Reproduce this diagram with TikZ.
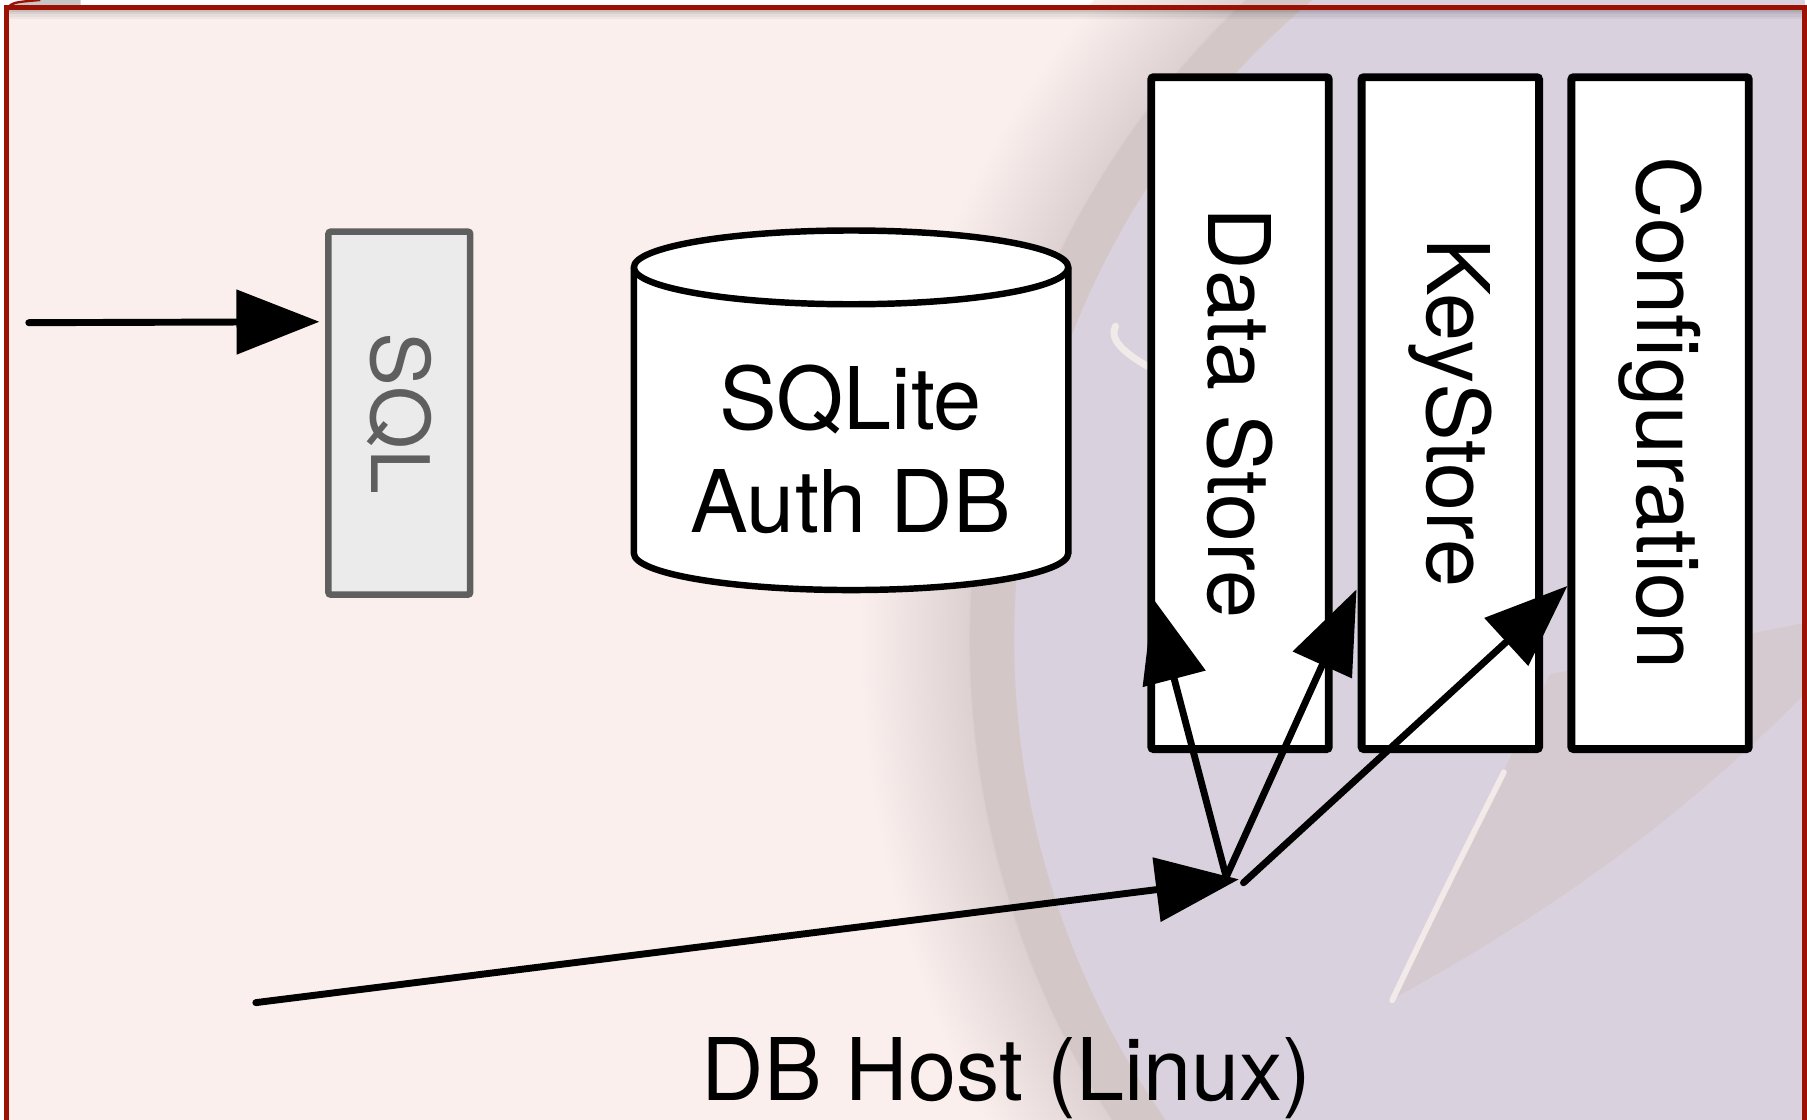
\documentclass[tikz,border=0pt]{standalone}
\usepackage{fontspec}
\setmainfont{TeX Gyre Heros}
\usetikzlibrary{arrows.meta,calc}
\definecolor{pinkbg}{HTML}{FAEFED}
\definecolor{framered}{HTML}{9B1205}
\definecolor{ringC}{HTML}{DDD2D1}
\definecolor{ringD}{HTML}{D3C8C7}
\definecolor{purp}{HTML}{D9D1DE}
\definecolor{bladecol}{HTML}{D5CACF}
\definecolor{streak}{HTML}{F2E9E9}
\definecolor{sqlfill}{HTML}{EBEBEB}
\definecolor{sqlgray}{HTML}{5F5F5F}
\pgfdeclareradialshading{logoring}{\pgfpoint{0bp}{0bp}}{%
  color(0bp)=(purp); color(21.1bp)=(purp);
  color(21.12bp)=(ringD); color(22.22bp)=(ringD);
  color(22.25bp)=(ringC); color(25bp)=(pinkbg); color(50bp)=(pinkbg)}
\tikzset{
  store/.style={draw=black, line width=3.4pt, fill=white, rounded corners=1pt,
    minimum width=77pt, minimum height=291.5pt, inner sep=0pt, font=\fontsize{37.5}{45}\selectfont},
  sqlbox/.style={draw=sqlgray, line width=2.8pt, fill=sqlfill, rounded corners=1pt, text=sqlgray,
    minimum width=61.5pt, minimum height=157.5pt, inner sep=0pt, font=\fontsize{35}{42}\selectfont},
  lbl/.style={font=\fontsize{37.5}{45}\selectfont, inner sep=0pt},
  arr/.style={line width=3pt, line cap=round, -{Triangle[length=36pt,width=27.5pt]}},
  cyl/.style={draw=black, line width=2.8pt, fill=white}
}
\begin{document}
\begin{tikzpicture}[x=0.5pt,y=-0.5pt]
\useasboundingbox (0,0) rectangle (1568,971);
% background
\fill[white] (0,0) rectangle (1568,971);
\fill[pinkbg] (5.5,6.5) rectangle (1565.5,985);
\begin{scope}
  \clip (0,0) rectangle (1566,971);
  \shade[shading=logoring] (1605,555) circle[radius=429.5pt];
  \fill[bladecol] (1210,866) -- (1345,585) -- (1568,540) -- (1568,600)
     .. controls (1450,720) and (1330,800) .. (1210,866) -- cycle;
  \draw[streak, line width=2.5pt, line cap=round] (1208,868) .. controls (1250,780) .. (1305,670);
  \draw[streak, line width=3pt, line cap=round] (968,283) .. controls (962,294) and (975,306) .. (996,318);
\end{scope}
% frame
\fill[gray!45] (5.5,8) .. controls (11,2) .. (35,0) -- (70,0) -- (70,6.5) -- cycle;
\draw[framered, line width=1pt] (5.5,8) .. controls (11,2) .. (35,0);
\foreach \dy/\op in {3/0.20,5/0.13,7/0.08,9/0.04}
  \draw[black, opacity=\op, line width=1pt] (7.5,{6.5+\dy}) -- (1564,{6.5+\dy});
\draw[framered, line width=2.2pt] (5.5,985) -- (5.5,6.5) -- (1565.5,6.5) -- (1565.5,985);
% nodes
\node[sqlbox] (sql) at (346.5,358.5) {\rotatebox{-90}{SQL}};
\path[cyl] (550,232) -- (550,480)
  arc[start angle=180, end angle=360, x radius=94.25pt, y radius=16pt]
  -- (927,232)
  arc[start angle=0, end angle=180, x radius=94.25pt, y radius=16pt] -- cycle;
\draw[cyl, fill=none] (550,232) arc[start angle=180, end angle=360, x radius=94.25pt, y radius=16pt];
\node[lbl, align=center] (db) at (738,390) {SQLite\\Auth DB};
\node[store] (ds) at (1076,358.5) {\rotatebox{-90}{Data Store}};
\node[store] (ks) at (1258.5,358.5) {\rotatebox{-90}{KeyStore}};
\node[store] (cf) at (1440.5,358.5) {\rotatebox{-90}{Configuration}};
\node[lbl, anchor=base] (host) at (873.5,955) {DB Host (Linux)};
% coordinates
\coordinate (sqlsrc) at (25,280);
\coordinate (src) at (222,870);
\coordinate (hubtip) at (1075,763);
\coordinate (hub) at (1064,761);
\coordinate (hubc) at (1079,766);
% connectors
\draw[arr] (sqlsrc) -- ($(sql.north west)+(-5,81)$);
\draw[arr] (src) -- (hubtip);
\draw[arr] (hub) -- ($(ds.south west)+(5,-134)$);
\draw[arr] (hub) -- ($(ks.south west)+(-1,-142)$);
\draw[arr] (hubc) -- ($(cf.south west)+(0,-145)$);
\end{tikzpicture}
\end{document}
